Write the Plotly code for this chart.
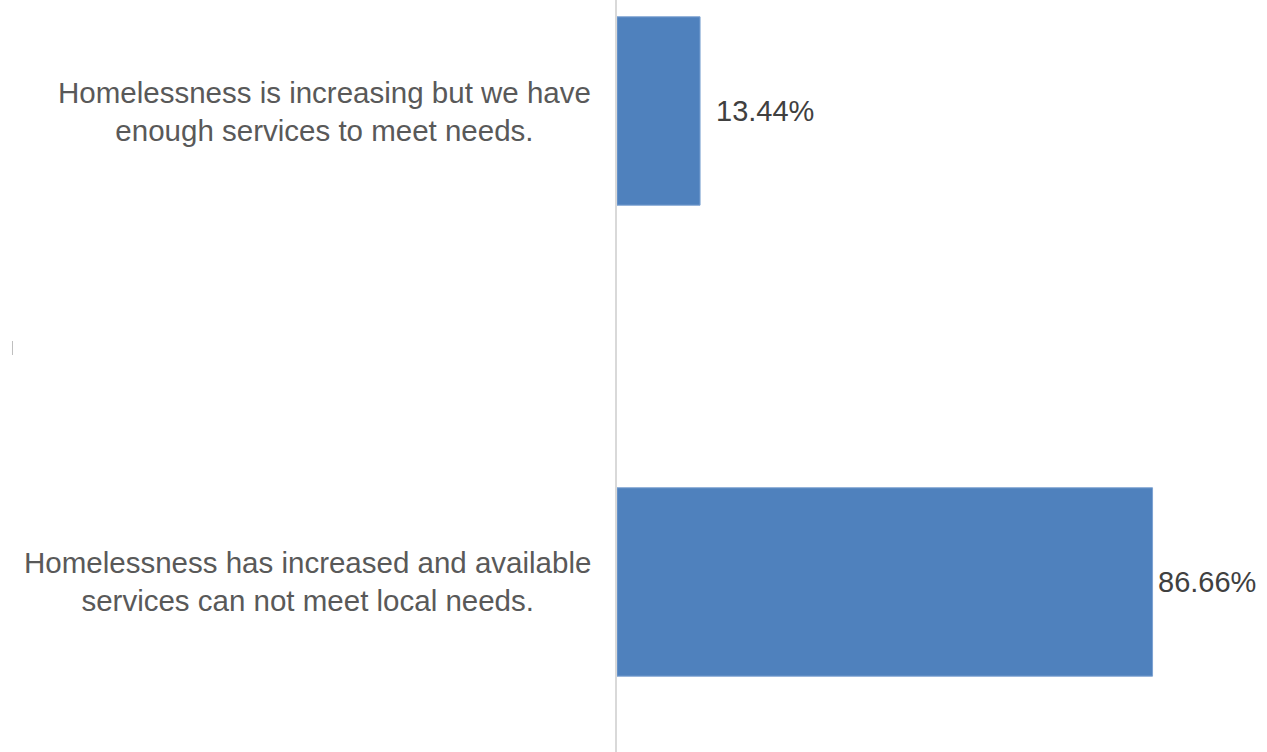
import plotly.graph_objects as go

categories = [
    "Homelessness is increasing but we have<br>enough services to meet needs.",
    "Homelessness has increased and available<br>services can not meet local needs.",
]
values = [13.44, 86.66]
value_labels = ["13.44%", "86.66%"]
label_shifts = [14, 3]

W, H = 1267, 752
fig = go.Figure()
fig.add_trace(go.Bar(
    y=list(range(len(categories))), x=values, orientation="h",
    width=0.4,
    marker=dict(color="#4F81BD", line=dict(color="#7DA2D2", width=1)),
    hoverinfo="skip",
))

annotations = []
for i, (c, v, t, s) in enumerate(zip(categories, values, value_labels, label_shifts)):
    annotations.append(dict(
        x=0, y=i, xref="paper", yref="y", text=c, showarrow=False,
        xanchor="right", yanchor="middle", align="center", xshift=-24,
        font=dict(family="Liberation Sans, Arial, sans-serif", size=29.5, color="#595959"),
    ))
    annotations.append(dict(
        x=v, y=i, xref="x", yref="y", text=t, showarrow=False,
        xanchor="left", yanchor="middle", xshift=s,
        font=dict(family="Liberation Sans, Arial, sans-serif", size=29, color="#404040"),
    ))

fig.update_layout(
    width=W, height=H,
    margin=dict(l=617, r=31.5, t=0, b=0),
    paper_bgcolor="white", plot_bgcolor="white",
    showlegend=False,
    xaxis=dict(range=[0, 100], visible=False, fixedrange=True),
    yaxis=dict(range=[1.361, -0.2357], showticklabels=False, showgrid=False,
               zeroline=False, showline=True, linecolor="#D9D9D9", linewidth=2,
               fixedrange=True),
    annotations=annotations,
)
fig.add_shape(type="line", xref="paper", yref="paper",
              x0=-605/618.5, x1=-605/618.5, y0=1 - 341/752, y1=1 - 355/752,
              line=dict(color="#BFBFBF", width=1))

fig.write_html("out.html", config={"displayModeBar": False})
